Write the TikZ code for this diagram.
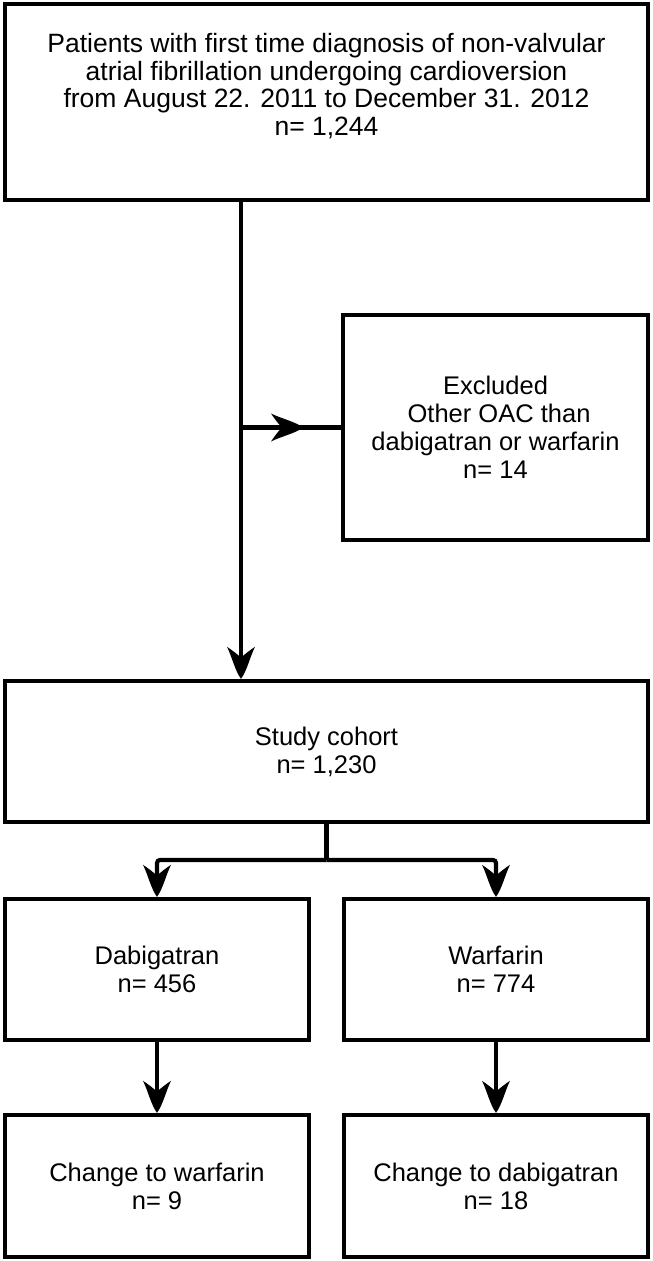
\documentclass[tikz,border=0pt]{standalone}
\usepackage{fontspec}
\setmainfont{Liberation Sans}
\usetikzlibrary{arrows.meta}
\pgfdeclarearrow{
  name = CStealth,
  setup code = {
    \pgfarrowssettipend{0pt}
    \pgfarrowssetlineend{-20pt}
    \pgfarrowssetbackend{-32pt}
    \pgfarrowshullpoint{0pt}{0pt}
    \pgfarrowshullpoint{-32pt}{14pt}
    \pgfarrowshullpoint{-32pt}{-14pt}
  },
  drawing code = {
    \pgfpathmoveto{\pgfpoint{0pt}{0pt}}
    \pgfpathcurveto{\pgfpoint{-8pt}{6pt}}{\pgfpoint{-22pt}{9pt}}{\pgfpoint{-32pt}{14pt}}
    \pgfpathcurveto{\pgfpoint{-28pt}{8pt}}{\pgfpoint{-24pt}{3pt}}{\pgfpoint{-21pt}{0pt}}
    \pgfpathcurveto{\pgfpoint{-24pt}{-3pt}}{\pgfpoint{-28pt}{-8pt}}{\pgfpoint{-32pt}{-14pt}}
    \pgfpathcurveto{\pgfpoint{-22pt}{-9pt}}{\pgfpoint{-8pt}{-6pt}}{\pgfpoint{0pt}{0pt}}
    \pgfpathclose
    \pgfusepathqfill
  }
}
\tikzset{
  box/.style={draw=black, line width=4.4pt, fill=white, inner sep=0pt},
  txt/.style={align=center, font=\fontsize{25.5}{28}\selectfont, inner sep=0pt},
  toptxt/.style={txt, font=\fontsize{26.5}{27.5}\selectfont},
  conn/.style={line width=4.2pt, draw=black},
  arr/.style={conn, -CStealth},
}
\begin{document}
\begin{tikzpicture}[x=1pt,y=-1pt]
\useasboundingbox (0,0) rectangle (653,1261);
\fill[white] (0,0) rectangle (653,1261);
% boxes
\node[box, minimum width=643pt, minimum height=196pt] (top) at (326.5,102) {};
\node[toptxt] (toptext) at (326.5,86) {Patients with first time diagnosis of non-valvular\\ atrial fibrillation undergoing cardioversion\\ from August 22. 2011 to December 31. 2012\\ n= 1,244};
\node[box, txt, minimum width=305pt, minimum height=225pt] (excl) at (495.5,427.5) {Excluded\\ \ Other OAC than\\ dabigatran or warfarin\\ n= 14};
\node[box, txt, minimum width=643pt, minimum height=141pt] (cohort) at (326.5,751.5) {Study cohort\\ n= 1,230};
\node[box, txt, minimum width=304pt, minimum height=141pt] (dabi) at (157,969.5) {Dabigatran\\ n= 456};
\node[box, txt, minimum width=304pt, minimum height=141pt] (warf) at (496,969.5) {Warfarin\\ n= 774};
\node[box, txt, minimum width=304pt, minimum height=142pt] (cw) at (157,1186) {Change to warfarin\\ n= 9};
\node[box, txt, minimum width=304pt, minimum height=142pt] (cd) at (496,1186) {Change to dabigatran\\ n= 18};
% helper coordinates
\coordinate (stem) at (241,0);
\coordinate (mid) at (303,427.5);
\coordinate (bC) at (326.5,860);
% connectors
\draw[arr] (top.south -| stem) -- (cohort.north -| stem);
\draw[conn] (stem |- excl.west) -- (excl.west);
\draw[arr] (stem |- excl.west) -- (mid);
\draw[conn] (cohort.south) -- (bC);
\draw[arr, rounded corners=3pt] (bC) -| (dabi.north);
\draw[arr, rounded corners=3pt] (bC) -| (warf.north);
\draw[arr] (dabi.south) -- (cw.north);
\draw[arr] (warf.south) -- (cd.north);
\end{tikzpicture}
\end{document}
